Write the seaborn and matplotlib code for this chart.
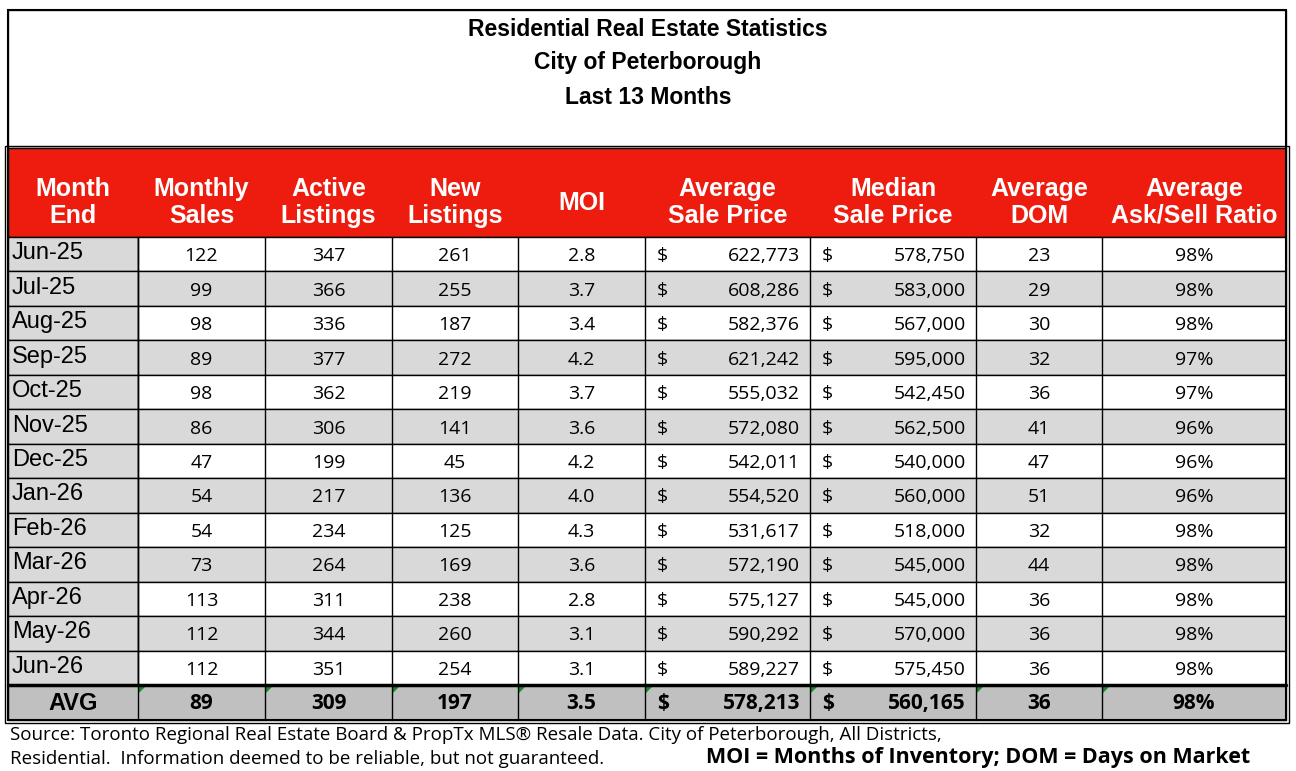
import seaborn as sns
import matplotlib.pyplot as plt
from matplotlib.patches import Rectangle, Polygon

months = ["Jun-25", "Jul-25", "Aug-25", "Sep-25", "Oct-25", "Nov-25", "Dec-25",
          "Jan-26", "Feb-26", "Mar-26", "Apr-26", "May-26", "Jun-26"]
sales = [122, 99, 98, 89, 98, 86, 47, 54, 54, 73, 113, 112, 112]
active = [347, 366, 336, 377, 362, 306, 199, 217, 234, 264, 311, 344, 351]
new_listings = [261, 255, 187, 272, 219, 141, 45, 136, 125, 169, 238, 260, 254]
moi = [2.8, 3.7, 3.4, 4.2, 3.7, 3.6, 4.2, 4.0, 4.3, 3.6, 2.8, 3.1, 3.1]
avg_price = [622773, 608286, 582376, 621242, 555032, 572080, 542011, 554520,
             531617, 572190, 575127, 590292, 589227]
med_price = [578750, 583000, 567000, 595000, 542450, 562500, 540000, 560000,
             518000, 545000, 545000, 570000, 575450]
dom = [23, 29, 30, 32, 36, 41, 47, 51, 32, 44, 36, 36, 36]
ratio = [98, 98, 98, 97, 97, 96, 96, 96, 98, 98, 98, 98, 98]
avg_row = ["89", "309", "197", "3.5", "578,213", "560,165", "36", "98%"]
headers = ["Month\nEnd", "Monthly\nSales", "Active\nListings", "New\nListings", "MOI",
           "Average\nSale Price", "Median\nSale Price", "Average\nDOM", "Average\nAsk/Sell Ratio"]

sns.set_style("white")
plt.rcParams["text.color"] = "black"
fig = plt.figure(figsize=(12.96, 7.71), dpi=100)
ax = fig.add_axes([0, 0, 1, 1])
ax.set_xlim(0, 1296)
ax.set_ylim(771, 0)
ax.axis("off")

arial = "Liberation Sans"
body = "Open Sans"
xs = [8, 138, 265, 392, 518, 645, 810, 976, 1102, 1286]
top, head_top, head_bot, avg_top, bot = 10, 148, 237, 685, 720
rh = (avg_top - head_bot) / len(months)

# title box
ax.add_patch(Rectangle((xs[0], top), xs[-1] - xs[0], head_top - top, fc="white", ec="#555", lw=1))
for i, t in enumerate(["Residential Real Estate Statistics", "City of Peterborough", "Last 13 Months"]):
    ax.text(648, 29 + i * 34, t, ha="center", va="center", fontsize=16.5, fontweight="bold", family=arial)

# header
ax.add_patch(Rectangle((xs[0], head_top), xs[-1] - xs[0], head_bot - head_top, fc="#ee1c0e", ec="black", lw=1))
for j, h in enumerate(headers):
    ax.text((xs[j] + xs[j + 1]) / 2, (head_top + head_bot) / 2 + 10, h, ha="center", va="center",
            color="white", fontsize=18, fontweight="bold", family=arial, linespacing=1.15)

cols = [sales, active, new_listings, [f"{v:.1f}" for v in moi], avg_price, med_price, dom, [f"{v}%" for v in ratio]]
for i, m in enumerate(months):
    y0 = head_bot + i * rh
    cy = y0 + rh / 2 + 2
    ax.add_patch(Rectangle((xs[0], y0), xs[1] - xs[0], rh, fc="#d9d9d9", ec="black", lw=1))
    ax.add_patch(Rectangle((xs[1], y0), xs[-1] - xs[1], rh, fc="#d9d9d9" if i % 2 else "white", ec="black", lw=1))
    ax.text(xs[0] + 4, cy - 3, m, ha="left", va="center", fontsize=17, family=arial)
    for j, c in enumerate(cols):
        v = c[i]
        if j in (4, 5):
            ax.text(xs[j + 1] + 12, cy, "$", ha="left", va="center", fontsize=14, family=body)
            ax.text(xs[j + 2] - 10, cy, f"{v:,}", ha="right", va="center", fontsize=14, family=body)
        else:
            ax.text((xs[j + 1] + xs[j + 2]) / 2, cy, str(v), ha="center", va="center", fontsize=14, family=body)
    for x in xs[1:-1]:
        ax.plot([x, x], [y0, y0 + rh], color="black", lw=1)

# avg row
ax.add_patch(Rectangle((xs[0], avg_top), xs[-1] - xs[0], bot - avg_top, fc="#c0c0c0", ec="black", lw=1))
ax.plot([xs[0], xs[-1]], [avg_top, avg_top], color="black", lw=2.5)
cy = (avg_top + bot) / 2 + 1
ax.text((xs[0] + xs[1]) / 2, cy, "AVG", ha="center", va="center", fontsize=17, fontweight="bold", family=arial)
for j, v in enumerate(avg_row):
    ax.plot([xs[j + 1]] * 2, [avg_top, bot], color="black", lw=1)
    ax.add_patch(Polygon([(xs[j + 1] + 1, avg_top + 1), (xs[j + 1] + 8, avg_top + 1), (xs[j + 1] + 1, avg_top + 8)],
                         fc="#1a8a2a", ec="none"))
    if j in (4, 5):
        ax.text(xs[j + 1] + 12, cy, "$", ha="left", va="center", fontsize=15, fontweight="bold", family=body)
        ax.text(xs[j + 2] - 10, cy, v, ha="right", va="center", fontsize=15, fontweight="bold", family=body)
    else:
        ax.text((xs[j + 1] + xs[j + 2]) / 2, cy, v, ha="center", va="center", fontsize=15, fontweight="bold", family=body)

# outer double border
ax.add_patch(Rectangle((xs[0], top), xs[-1] - xs[0], bot - top, fc="none", ec="black", lw=1.5))
ax.add_patch(Rectangle((xs[0] - 3, head_top - 2), xs[-1] - xs[0] + 6, bot - head_top + 5, fc="none", ec="black", lw=1))

ax.text(10, 735, "Source: Toronto Regional Real Estate Board & PropTx MLS\u00ae Resale Data. City of Peterborough, All Districts,",
        ha="left", va="center", fontsize=13.5, family=body)
ax.text(10, 759, "Residential.  Information deemed to be reliable, but not guaranteed.", ha="left", va="center",
        fontsize=13.5, family=body)
ax.text(1250, 758, "MOI = Months of Inventory; DOM = Days on Market", ha="right", va="center",
        fontsize=15.5, fontweight="bold", family=body)

fig.savefig("out.png", dpi=100)
